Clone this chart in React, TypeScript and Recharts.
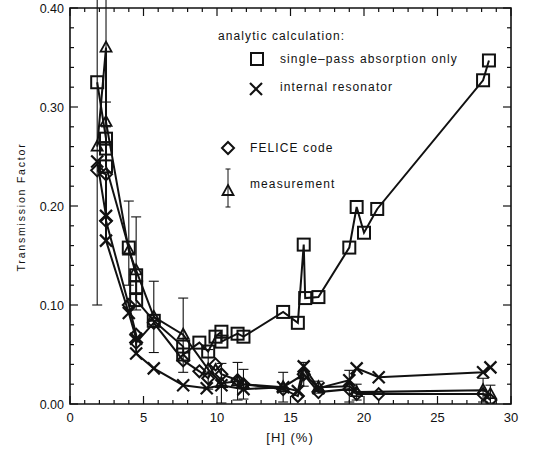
import React from 'react';
import {
  ComposedChart,
  Scatter,
  XAxis,
  YAxis,
  ErrorBar,
  ReferenceArea,
} from 'recharts';

// analytic calculation, single-pass absorption only
const singlePass = [
  { x: 1.85, y: 0.325 },
  { x: 2.45, y: 0.268 },
  { x: 2.45, y: 0.258 },
  { x: 2.45, y: 0.24 },
  { x: 4.0, y: 0.158 },
  { x: 4.5, y: 0.13 },
  { x: 4.5, y: 0.118 },
  { x: 4.5, y: 0.105 },
  { x: 5.7, y: 0.084 },
  { x: 7.7, y: 0.058 },
  { x: 7.7, y: 0.05 },
  { x: 8.8, y: 0.062 },
  { x: 9.4, y: 0.053 },
  { x: 9.9, y: 0.068 },
  { x: 10.3, y: 0.073 },
  { x: 10.3, y: 0.063 },
  { x: 11.4, y: 0.071 },
  { x: 11.8, y: 0.068 },
  { x: 14.5, y: 0.093 },
  { x: 15.5, y: 0.082 },
  { x: 15.9, y: 0.161 },
  { x: 16.0, y: 0.107 },
  { x: 16.9, y: 0.108 },
  { x: 19.0, y: 0.158 },
  { x: 19.5, y: 0.199 },
  { x: 20.0, y: 0.173 },
  { x: 20.9, y: 0.197 },
  { x: 28.1, y: 0.327 },
  { x: 28.5, y: 0.347 },
];

// analytic calculation, internal resonator
const resonator = [
  { x: 1.85, y: 0.245 },
  { x: 2.45, y: 0.19 },
  { x: 2.45, y: 0.165 },
  { x: 4.0, y: 0.092 },
  { x: 4.5, y: 0.066 },
  { x: 4.5, y: 0.051 },
  { x: 5.7, y: 0.036 },
  { x: 7.7, y: 0.019 },
  { x: 9.3, y: 0.016 },
  { x: 10.3, y: 0.019 },
  { x: 11.8, y: 0.015 },
  { x: 14.5, y: 0.017 },
  { x: 15.5, y: 0.013 },
  { x: 15.9, y: 0.038 },
  { x: 16.9, y: 0.016 },
  { x: 19.0, y: 0.024 },
  { x: 19.5, y: 0.036 },
  { x: 21.0, y: 0.027 },
  { x: 28.1, y: 0.032 },
  { x: 28.6, y: 0.037 },
];

// FELICE code
const felice = [
  { x: 1.85, y: 0.236 },
  { x: 2.45, y: 0.232 },
  { x: 2.45, y: 0.185 },
  { x: 4.0, y: 0.1 },
  { x: 4.5, y: 0.07 },
  { x: 4.5, y: 0.062 },
  { x: 5.7, y: 0.082 },
  { x: 7.7, y: 0.044 },
  { x: 8.8, y: 0.033 },
  { x: 9.4, y: 0.026 },
  { x: 9.9, y: 0.04 },
  { x: 10.3, y: 0.03 },
  { x: 11.4, y: 0.024 },
  { x: 11.8, y: 0.02 },
  { x: 14.5, y: 0.015 },
  { x: 15.5, y: 0.008 },
  { x: 15.9, y: 0.03 },
  { x: 16.9, y: 0.012 },
  { x: 19.0, y: 0.015 },
  { x: 19.5, y: 0.01 },
  { x: 21.0, y: 0.01 },
  { x: 28.1, y: 0.01 },
  { x: 28.6, y: 0.004 },
];

// measurement with error bars [down, up]
const measured = [
  { x: 1.85, y: 0.26, err: [0.16, 0.3] },
  { x: 2.45, y: 0.36, err: [0.08, 0.1] },
  { x: 2.45, y: 0.285, err: [0.02, 0.02] },
  { x: 4.0, y: 0.155, err: [0.035, 0.05] },
  { x: 4.5, y: 0.135, err: [0.04, 0.054] },
  { x: 5.7, y: 0.088, err: [0.036, 0.036] },
  { x: 7.7, y: 0.07, err: [0.038, 0.037] },
  { x: 9.4, y: 0.035, err: [0.02, 0.02] },
  { x: 10.3, y: 0.021, err: [0.02, 0.02] },
  { x: 11.4, y: 0.023, err: [0.019, 0.019] },
  { x: 11.8, y: 0.02, err: [0.015, 0.015] },
  { x: 14.5, y: 0.017, err: [0.015, 0.015] },
  { x: 15.9, y: 0.03, err: [0.012, 0.012] },
  { x: 16.9, y: 0.017, err: [0.006, 0.006] },
  { x: 19.0, y: 0.018, err: [0.016, 0.016] },
  { x: 19.5, y: 0.012, err: [0.008, 0.008] },
  { x: 28.1, y: 0.014, err: [0.012, 0.012] },
  { x: 28.6, y: 0.01, err: [0.009, 0.009] },
];

const xTicks = Array.from({ length: 31 }, (_, i) => i);
const yTicks = Array.from({ length: 21 }, (_, i) => Math.round(i * 2) / 100);

const W = 536;
const H = 457;
const M = { top: 8, right: 25, bottom: 13, left: 20 };
const Y_AXIS_W = 50;
const X_AXIS_H = 40;
const PLOT_LEFT = M.left + Y_AXIS_W;
const PLOT_RIGHT = W - M.right;
const PLOT_TOP = M.top;
const PLOT_BOTTOM = H - M.bottom - X_AXIS_H;

const FONT = '"Liberation Sans", Arial, sans-serif';
const INK = '#111';

const Square = ({ cx, cy }: any) => (
  <rect x={cx - 6} y={cy - 6} width={12} height={12} fill="none" stroke={INK} strokeWidth={2} />
);
const Cross = ({ cx, cy }: any) => (
  <g stroke={INK} strokeWidth={2.2}>
    <line x1={cx - 6} y1={cy - 6} x2={cx + 6} y2={cy + 6} />
    <line x1={cx - 6} y1={cy + 6} x2={cx + 6} y2={cy - 6} />
  </g>
);
const Diamond = ({ cx, cy }: any) => (
  <path d={`M${cx},${cy - 6}L${cx + 6},${cy}L${cx},${cy + 6}L${cx - 6},${cy}Z`} fill="none" stroke={INK} strokeWidth={2} />
);
const Triangle = ({ cx, cy }: any) => (
  <path d={`M${cx},${cy - 6}L${cx + 5.5},${cy + 4}L${cx - 5.5},${cy + 4}Z`} fill="none" stroke={INK} strokeWidth={1.8} />
);

const XTick = ({ x, payload }: any) => {
  const v = payload.value;
  const major = v % 5 === 0;
  const len = major ? 8 : 4;
  return (
    <g>
      <line x1={x} x2={x} y1={PLOT_BOTTOM} y2={PLOT_BOTTOM - len} stroke={INK} strokeWidth={1.2} />
      <line x1={x} x2={x} y1={PLOT_TOP} y2={PLOT_TOP + len} stroke={INK} strokeWidth={1.2} />
      {major && (
        <text x={x} y={PLOT_BOTTOM + 18} textAnchor="middle" fontSize={13} fontFamily={FONT} fill={INK}>
          {v}
        </text>
      )}
    </g>
  );
};

const YTick = ({ y, payload }: any) => {
  const v = payload.value;
  const major = Math.abs(Math.round(v * 100) % 10) === 0;
  const len = major ? 8 : 4;
  return (
    <g>
      <line x1={PLOT_LEFT} x2={PLOT_LEFT + len} y1={y} y2={y} stroke={INK} strokeWidth={1.2} />
      <line x1={PLOT_RIGHT} x2={PLOT_RIGHT - len} y1={y} y2={y} stroke={INK} strokeWidth={1.2} />
      {major && (
        <text x={PLOT_LEFT - 6} y={y + 4.5} textAnchor="end" fontSize={12.5} fontFamily={FONT} fill={INK}>
          {v.toFixed(2)}
        </text>
      )}
    </g>
  );
};

const lineStyle = { stroke: INK, strokeWidth: 2 };
const legendText = { fontSize: 12, fontFamily: FONT, fill: INK, letterSpacing: 1.1 };

export default function App() {
  return (
    <div style={{ position: 'absolute', left: 0, top: 0, width: W, height: H, background: '#fff' }}>
      <ComposedChart width={W} height={H} margin={M}>
        <XAxis
          type="number"
          dataKey="x"
          domain={[0, 30]}
          ticks={xTicks}
          interval={0}
          tick={<XTick />}
          tickLine={false}
          axisLine={false}
          height={X_AXIS_H}
          allowDataOverflow
        />
        <YAxis
          type="number"
          dataKey="y"
          domain={[0, 0.4]}
          ticks={yTicks}
          interval={0}
          tick={<YTick />}
          tickLine={false}
          axisLine={false}
          width={Y_AXIS_W}
          allowDataOverflow
        />
        <ReferenceArea x1={0} x2={30} y1={0} y2={0.4} fill="none" stroke={INK} strokeWidth={1.6} />
        <Scatter data={measured} line={lineStyle} shape={<Triangle />} isAnimationActive={false}>
          <ErrorBar dataKey="err" direction="y" width={5} stroke={INK} strokeWidth={1.1} />
        </Scatter>
        <Scatter data={felice} line={lineStyle} shape={<Diamond />} isAnimationActive={false} />
        <Scatter data={resonator} line={lineStyle} shape={<Cross />} isAnimationActive={false} />
        <Scatter data={singlePass} line={lineStyle} shape={<Square />} isAnimationActive={false} />
      </ComposedChart>
      <svg width={W} height={H} style={{ position: 'absolute', left: 0, top: 0, pointerEvents: 'none' }}>
        <text x={218} y={40} {...legendText}>analytic calculation:</text>
        <Square cx={257} cy={59} />
        <text x={280} y={63} {...legendText}>single–pass absorption only</text>
        <Cross cx={256} cy={89} />
        <text x={280} y={91} {...legendText}>internal resonator</text>
        <Diamond cx={228} cy={148} />
        <text x={250} y={152} {...legendText}>FELICE code</text>
        <line x1={228} x2={228} y1={169} y2={207} stroke={INK} strokeWidth={1} />
        <line x1={225.5} x2={230.5} y1={169} y2={169} stroke={INK} strokeWidth={1} />
        <line x1={225.5} x2={230.5} y1={207} y2={207} stroke={INK} strokeWidth={1} />
        <Triangle cx={228} cy={191} />
        <text x={250} y={188} {...legendText}>measurement</text>
        <text x={290} y={442} textAnchor="middle" fontSize={13} fontFamily={FONT} fill={INK} letterSpacing={1}>
          [H] (%)
        </text>
        <text
          transform="translate(25,207) rotate(-90)"
          textAnchor="middle"
          fontSize={10.5}
          fontFamily={FONT}
          fill={INK}
          letterSpacing={1.8}
        >
          Transmission Factor
        </text>
      </svg>
    </div>
  );
}
